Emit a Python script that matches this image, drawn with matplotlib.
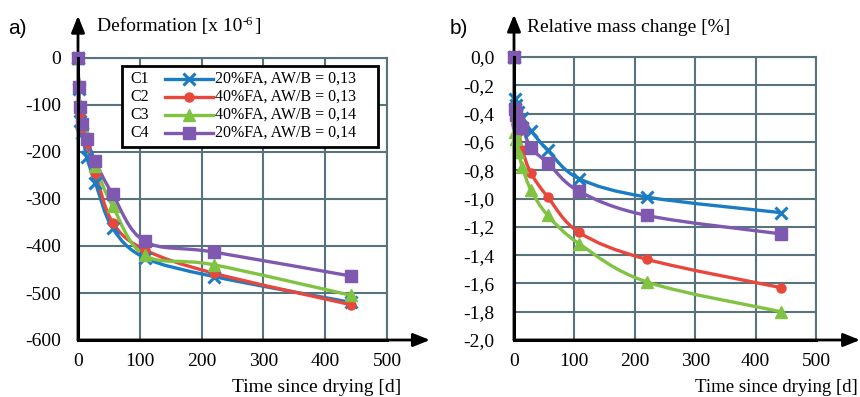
import matplotlib
matplotlib.use('Agg')
import matplotlib.pyplot as plt
import numpy as np
from matplotlib.path import Path
from matplotlib.patches import PathPatch, Rectangle

# ---------------- data ----------------
days = [0, 1, 3, 7, 14, 28, 56, 108, 220, 442]

def_c1 = [0, -65, -135, -160, -210, -265, -362, -425, -465, -520]
def_c2 = [0, -60, -117, -150, -180, -245, -350, -408, -458, -525]
def_c3 = [0, -55, -100, -140, -165, -230, -315, -420, -440, -505]
def_c4 = [0, -61, -104, -140, -172, -220, -290, -390, -413, -464]

mass_c1 = [0, -0.30, -0.34, -0.39, -0.43, -0.52, -0.66, -0.86, -0.99, -1.10]
mass_c2 = [0, -0.42, -0.47, -0.53, -0.66, -0.82, -0.99, -1.24, -1.43, -1.63]
mass_c3 = [0, -0.53, -0.58, -0.67, -0.78, -0.94, -1.12, -1.32, -1.59, -1.80]
mass_c4 = [0, -0.37, -0.41, -0.46, -0.50, -0.64, -0.75, -0.95, -1.12, -1.25]

codes_lbl = ['C1', 'C2', 'C3', 'C4']
descs = ['20%FA, AW/B = 0,13', '40%FA, AW/B = 0,13',
         '40%FA, AW/B = 0,14', '20%FA, AW/B = 0,14']

x_ticks = [0, 100, 200, 300, 400, 500]
def_ticks = [0, -100, -200, -300, -400, -500, -600]
mass_ticks = [0.0, -0.2, -0.4, -0.6, -0.8, -1.0, -1.2, -1.4, -1.6, -1.8, -2.0]
mass_tick_labels = ['0,0', '-0,2', '-0,4', '-0,6', '-0,8', '-1,0', '-1,2',
                    '-1,4', '-1,6', '-1,8', '-2,0']

# ---------------- style ----------------
colors = ['#1b7cc3', '#e8473c', '#80c342', '#7f58b0']
markers = ['x', 'o', '^', 's']
msizes = [9, 6.5, 8, 8]
mews = [2.2, 1, 1, 1]
grid_c = '#58737c'

plt.rcParams['font.family'] = ['Liberation Serif', 'DejaVu Serif']
plt.rcParams['axes.unicode_minus'] = False

fig = plt.figure(figsize=(8.6, 3.97), dpi=100)
axL = fig.add_axes([78/860, 57/397, 309/860, 282/397])
axR = fig.add_axes([514/860, 57/397, 302/860, 283/397])


def smooth_patch(ax, x, y, xr, yr, color):
    pts = np.column_stack([np.asarray(x, float) / xr, np.asarray(y, float) / yr])
    n = len(pts)
    verts = [pts[0]]
    cds = [Path.MOVETO]
    for i in range(n - 1):
        p0 = pts[i - 1] if i > 0 else pts[i]
        p1 = pts[i]
        p2 = pts[i + 1]
        p3 = pts[i + 2] if i + 2 < n else pts[i + 1]
        c1 = p1 + (p2 - p0) / 6.0
        c2 = p2 - (p3 - p1) / 6.0
        verts += [c1, c2, p2]
        cds += [Path.CURVE4] * 3
    verts = np.array(verts) * np.array([xr, yr])
    ax.add_patch(PathPatch(Path(verts, cds), fill=False, edgecolor=color,
                           lw=2.4, capstyle='round', joinstyle='round', zorder=3))


def setup(ax, ylim, yticks, ylabels, ypad, arrow_x):
    ax.set_xlim(0, 500)
    ax.set_ylim(*ylim)
    ax.set_xticks(x_ticks)
    ax.set_yticks(yticks)
    ax.set_yticklabels(ylabels)
    ax.tick_params(axis='both', length=0, labelsize=14, colors='black')
    ax.tick_params(axis='y', pad=ypad)
    ax.tick_params(axis='x', pad=9)
    ax.grid(True, color=grid_c, lw=1.5)
    ax.set_axisbelow(True)
    for s in ['top', 'right']:
        ax.spines[s].set_color(grid_c)
        ax.spines[s].set_linewidth(1.5)
    for s in ['left', 'bottom']:
        ax.spines[s].set_color('black')
        ax.spines[s].set_linewidth(2.2)
        ax.spines[s].set_zorder(5)
    # axis arrows
    ax.annotate('', xy=(0, 1.150), xytext=(0, 0), xycoords='axes fraction',
                textcoords='axes fraction', annotation_clip=False,
                arrowprops=dict(arrowstyle='-|>,head_length=1.0,head_width=0.4',
                                color='black', lw=2.0, shrinkA=0, shrinkB=0))
    ax.annotate('', xy=(arrow_x, 0), xytext=(0, 0), xycoords='axes fraction',
                textcoords='axes fraction', annotation_clip=False,
                arrowprops=dict(arrowstyle='-|>,head_length=1.0,head_width=0.4',
                                color='black', lw=2.0, shrinkA=0, shrinkB=0))


setup(axL, (-600, 0), def_ticks, [str(t) for t in def_ticks], 12, 1.139)
setup(axR, (-2.0, 0), mass_ticks, mass_tick_labels, 14, 1.146)

def_series = [def_c1, def_c2, def_c3, def_c4]
mass_series = [mass_c1, mass_c2, mass_c3, mass_c4]

for ax, series, yr in [(axL, def_series, 600.0), (axR, mass_series, 2.0)]:
    for i, ys in enumerate(series):
        smooth_patch(ax, days, ys, 500.0, yr, colors[i])
        ax.plot(days, ys, linestyle='none', marker=markers[i], ms=msizes[i],
                mew=mews[i], color=colors[i], mec=colors[i], zorder=4,
                clip_on=False)

# legend (manual, left panel)
lx0, lx1 = (122 - 78) / 309, (378 - 78) / 309
ly0, ly1 = (340 - 147) / 282, (340 - 66) / 282
axL.add_patch(Rectangle((lx0, ly0), lx1 - lx0, ly1 - ly0, transform=axL.transAxes,
                        facecolor='white', edgecolor='black', lw=2.0, zorder=6))
rows_px = [79, 97, 115, 133]
for i, rp in enumerate(rows_px):
    yy = (340 - rp) / 282
    axL.text((130 - 78) / 309, yy, codes_lbl[i], transform=axL.transAxes,
             fontsize=11.5, va='center', ha='left', zorder=7)
    axL.plot([(165 - 78) / 309, (213 - 78) / 309], [yy, yy], transform=axL.transAxes,
             color=colors[i], lw=2.4, zorder=7, clip_on=False)
    axL.plot([(189 - 78) / 309], [yy], transform=axL.transAxes, marker=markers[i],
             ms=msizes[i], mew=mews[i], color=colors[i], zorder=8, clip_on=False)
    axL.text((215 - 78) / 309, yy, descs[i], transform=axL.transAxes,
             fontsize=11.5, va='center', ha='left', zorder=7)

# titles / labels
fig.text(8 / 860, 1 - 29 / 397, 'a)', family='Liberation Sans', fontsize=15,
         va='center', ha='left')
fig.text(450 / 860, 1 - 29 / 397, 'b)', family='Liberation Sans', fontsize=15,
         va='center', ha='left')
t1 = fig.text(97 / 860, 1 - 27 / 397, 'Deformation [x 10', fontsize=14,
              va='center', ha='left')
fig.canvas.draw()
bb = t1.get_window_extent()
t2 = fig.text(bb.x1 / 860 + 0.5 / 860, 1 - 22 / 397, '-6', fontsize=9,
              va='center', ha='left')
fig.canvas.draw()
bb2 = t2.get_window_extent()
fig.text(bb2.x1 / 860 + 1 / 860, 1 - 27 / 397, ']', fontsize=14,
         va='center', ha='left')
fig.text(527 / 860, 1 - 27 / 397, 'Relative mass change [%]', fontsize=14,
         va='center', ha='left')
fig.text(232 / 860, 1 - 388 / 397, 'Time since drying [d]', fontsize=14,
         va='center', ha='left')
fig.text(858 / 860, 1 - 388 / 397, 'Time since drying [d]', fontsize=13.5,
         va='center', ha='right')

fig.savefig('out.png', dpi=100)
